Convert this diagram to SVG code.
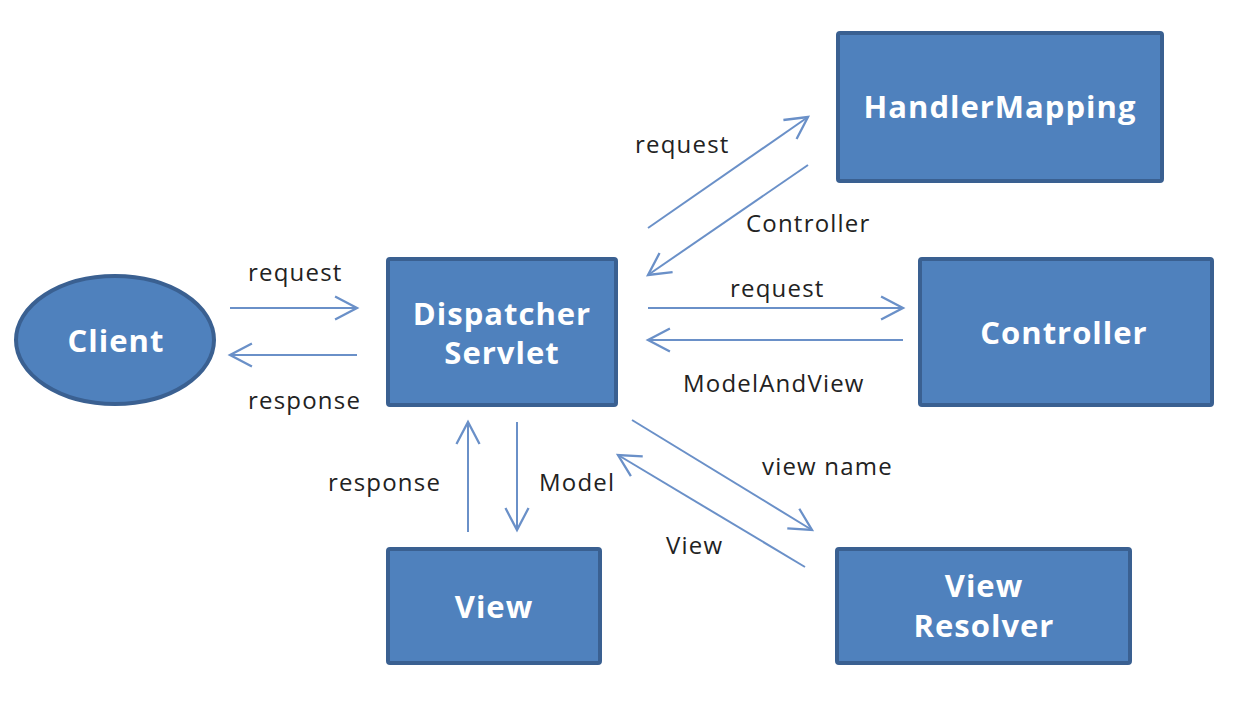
<svg xmlns="http://www.w3.org/2000/svg" width="1234" height="714" viewBox="0 0 1234 714">
<style>
.node{fill:#4F81BD;stroke:#3A6091;stroke-width:4}
.nt{font-family:"Open Sans","DejaVu Sans",sans-serif;font-weight:bold;font-size:31px;letter-spacing:1px;fill:#FFFFFF;text-anchor:middle}
.lbl{font-family:"Open Sans","DejaVu Sans",sans-serif;font-size:24px;letter-spacing:1.2px;fill:#222222}
.c{stroke:#6A90C8;stroke-width:2;fill:none;marker-end:url(#ah)}
</style>
<defs>
<marker id="ah" markerUnits="userSpaceOnUse" markerWidth="30" markerHeight="30" viewBox="-22 -12 26 24" refX="0" refY="0" orient="auto">
<path d="M-19,-10 L0,0 L-19,10" fill="none" stroke="#6A90C8" stroke-width="2"/>
</marker>
</defs>
<rect width="1234" height="714" fill="#FFFFFF"/>
<g id="client"><ellipse class="node" cx="115" cy="340" rx="99" ry="64"/><text class="nt" x="116" y="352">Client</text></g>
<g id="dispatcher"><rect class="node" x="388" y="259" width="228" height="146" rx="2"/><text class="nt" x="502" y="325">Dispatcher</text><text class="nt" x="502" y="364">Servlet</text></g>
<g id="handlermapping"><rect class="node" x="838" y="33" width="324" height="148" rx="2"/><text class="nt" x="1000" y="118">HandlerMapping</text></g>
<g id="controller"><rect class="node" x="920" y="259" width="292" height="146" rx="2"/><text class="nt" x="1064" y="344">Controller</text></g>
<g id="view"><rect class="node" x="388" y="549" width="212" height="114" rx="2"/><text class="nt" x="494" y="618">View</text></g>
<g id="viewresolver"><rect class="node" x="837" y="549" width="293" height="114" rx="2"/><text class="nt" x="984" y="597">View</text><text class="nt" x="984" y="637">Resolver</text></g>
<g id="connectors">
<line class="c" x1="230" y1="308" x2="357" y2="308"/>
<line class="c" x1="357" y1="355" x2="230" y2="355"/>
<line class="c" x1="648" y1="228" x2="808" y2="117"/>
<line class="c" x1="808" y1="165" x2="648" y2="275"/>
<line class="c" x1="648" y1="308" x2="903" y2="308"/>
<line class="c" x1="903" y1="340" x2="648" y2="340"/>
<line class="c" x1="468" y1="532" x2="468" y2="422"/>
<line class="c" x1="517" y1="422" x2="517" y2="530"/>
<line class="c" x1="632" y1="420" x2="812" y2="530"/>
<line class="c" x1="805" y1="567" x2="618" y2="455"/>
<text class="lbl" x="248" y="281">request</text>
<text class="lbl" x="248" y="409">response</text>
<text class="lbl" x="635" y="153">request</text>
<text class="lbl" x="746" y="232">Controller</text>
<text class="lbl" x="730" y="297">request</text>
<text class="lbl" x="683" y="392">ModelAndView</text>
<text class="lbl" x="328" y="491">response</text>
<text class="lbl" x="539" y="491">Model</text>
<text class="lbl" x="762" y="475">view name</text>
<text class="lbl" x="666" y="554">View</text>
</g>
</svg>
